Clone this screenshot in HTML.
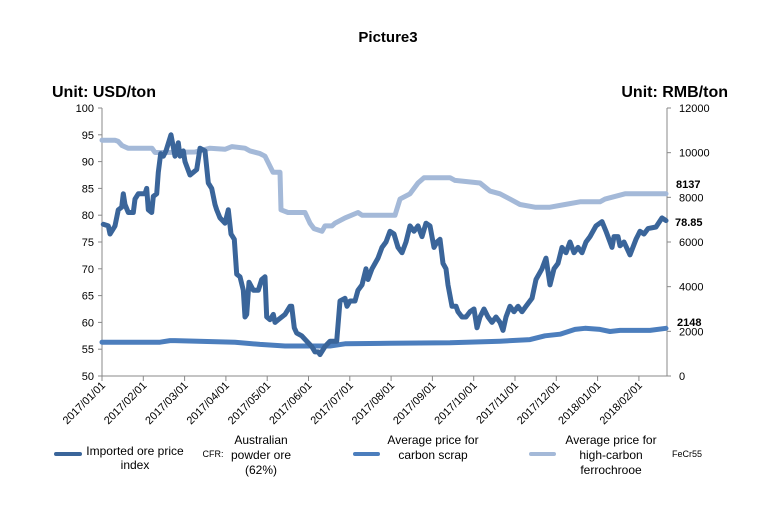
<!DOCTYPE html>
<html><head><meta charset="utf-8"><style>
body{margin:0;background:#fff;}
svg{display:block;font-family:"Liberation Sans",sans-serif;}
</style></head><body>
<svg id="s" width="776" height="506" xmlns="http://www.w3.org/2000/svg">
<rect width="776" height="506" fill="#fff"/>
<text x="388" y="42" font-size="15" font-weight="bold" text-anchor="middle">Picture3</text>
<text x="52" y="97" font-size="16" font-weight="bold">Unit: USD/ton</text>
<text x="728" y="97" font-size="16" font-weight="bold" text-anchor="end">Unit: RMB/ton</text>
<g id="axes" stroke="#888" stroke-width="1" fill="none"></g>
<g id="labels" font-size="11" fill="#000"></g>
<g id="series" fill="none" stroke-linejoin="round" stroke-linecap="round"></g>
<text x="676" y="188" font-size="11" font-weight="bold">8137</text>
<text x="675" y="226" font-size="11" font-weight="bold">78.85</text>
<text x="677" y="326" font-size="11" font-weight="bold">2148</text>
<g font-size="12" fill="#000" text-anchor="middle">
<line x1="56" y1="454" x2="80" y2="454" stroke="#3A659A" stroke-width="4" stroke-linecap="round"/>
<text x="135" y="455">Imported ore price</text><text x="135" y="469">index</text>
<text x="213" y="457" font-size="9">CFR:</text>
<text x="261" y="444">Australian</text><text x="261" y="459">powder ore</text><text x="261" y="474">(62%)</text>
<line x1="355" y1="454" x2="378" y2="454" stroke="#4C7EBD" stroke-width="4" stroke-linecap="round"/>
<text x="433" y="444">Average price for</text><text x="433" y="459">carbon scrap</text>
<line x1="531" y1="454" x2="554" y2="454" stroke="#A4B9D8" stroke-width="4" stroke-linecap="round"/>
<text x="611" y="444">Average price for</text><text x="611" y="459">high-carbon</text><text x="611" y="474">ferrochrooe</text>
<text x="687" y="457" font-size="9">FeCr55</text>
</g>
</svg>
<script>
const NS="http://www.w3.org/2000/svg";
function el(p,t,a,txt){const e=document.createElementNS(NS,t);for(const k in a)e.setAttribute(k,a[k]);if(txt!==undefined)e.textContent=txt;document.getElementById(p).appendChild(e);return e;}
const L=102,R=667,T=108,B=376;
const Y=v=>B-(v-50)*(B-T)/50;
el("axes","line",{x1:L,y1:T,x2:L,y2:B});
el("axes","line",{x1:R,y1:T,x2:R,y2:B});
el("axes","line",{x1:L,y1:B,x2:R,y2:B});
for(let v=50;v<=100;v+=5){const y=Y(v);el("axes","line",{x1:L-4,y1:y,x2:L,y2:y});el("labels","text",{x:L-8,y:y+4,"text-anchor":"end"},String(v));}
for(let r=0;r<=12000;r+=2000){const y=B-r/12000*(B-T);el("axes","line",{x1:R,y1:y,x2:R+4,y2:y});el("labels","text",{x:R+12,y:y+4},String(r));}
const dates=["2017/01/01","2017/02/01","2017/03/01","2017/04/01","2017/05/01","2017/06/01","2017/07/01","2017/08/01","2017/09/01","2017/10/01","2017/11/01","2017/12/01","2018/01/01","2018/02/01"];
dates.forEach((d,i)=>{const x=L+i*41.3;el("axes","line",{x1:x,y1:B,x2:x,y2:B+5});el("labels","text",{x:x+4,y:B+10,"text-anchor":"end",transform:`rotate(-45 ${x+4} ${B+10})`},d);});
const zd=[[190,78.3],[205,78],[210,76.5],[225,78],[235,81],[245,81.5],[250,84],[255,82],[265,80.5],[280,80.5],[285,83],[295,84],[315,84],[320,85],[325,81],[335,80.5],[340,83.5],[350,84],[355,88],[362,91.5],[370,91],[378,92],[393,95],[405,91],[415,93.5],[420,91],[430,92],[435,90],[450,87.5],[470,88.5],[480,92.5],[495,92],[505,86],[515,85],[525,82],[530,81],[540,79.5],[555,78.5],[565,81],[573,76.5],[583,75.5],[590,69],[600,68.5],[610,66],[615,61],[620,61.5],[627,67.5],[640,66],[655,66],[665,68],[675,68.5],[680,61],[690,60.5],[700,61.5],[705,60],[715,60.5],[735,61.5],[750,63],[755,63],[763,59],[770,58],[785,57.5],[800,56.5],[815,55.5],[825,54.5],[835,54.5],[840,54],[855,55.5],[870,56.5],[890,56.5]];
let dark=zd.map(p=>[p[0]/3+40,p[1]]);
dark=dark.concat([[340,64],[345,64.5],[347,63],[350,64],[355,64],[358,66],[362,67],[366,70],[368,68],[372,70],[378,72],[382,74],[386,75],[390,77],[394,76.5],[398,74],[402,73],[406,75],[410,78],[414,77],[418,78],[422,76],[426,78.5],[430,78],[434,74],[437,75],[440,75.5],[443,71],[446,70],[448,67],[452,63],[456,63],[458,62],[462,61],[466,61],[470,62],[474,62.5],[477,59],[480,61],[484,62.5],[488,61],[492,60],[496,61],[500,60],[503,58.5],[506,61],[510,63],[514,62],[518,63],[522,62],[526,63],[532,64.5],[536,68],[542,70],[546,72],[550,67],[554,70],[558,71],[562,74],[566,73],[570,75],[574,73],[578,74],[582,73],[586,75],[590,76],[596,78],[602,78.8],[606,77],[612,74],[614,76],[618,76],[620,74.3],[624,75],[630,72.6],[636,75.5],[640,77],[644,76.5],[648,77.5],[656,77.8],[662,79.5],[666,79]]);
const light=[[102,94],[115,94],[118,93.8],[122,93],[128,92.5],[152,92.5],[155,91.7],[162,91.7],[195,91.8],[210,92.5],[225,92.3],[232,92.8],[245,92.5],[250,92],[260,91.5],[265,91],[273,88],[280,88],[281,81],[288,80.5],[305,80.5],[310,78.5],[314,77.5],[322,77],[325,78],[332,78],[335,78.5],[345,79.5],[358,80.5],[362,80],[395,80],[400,83],[405,83.5],[410,84],[418,86],[424,87],[450,87],[455,86.5],[480,86],[490,84.5],[500,84],[510,83],[520,82],[535,81.5],[550,81.5],[565,82],[580,82.5],[600,82.5],[605,83],[625,84],[640,84],[666,84]];
const blue=[[102,56.3],[160,56.3],[170,56.6],[175,56.6],[235,56.3],[260,55.9],[285,55.6],[330,55.6],[345,56],[390,56.1],[450,56.2],[500,56.5],[530,56.8],[545,57.5],[560,57.8],[575,58.7],[585,58.9],[600,58.7],[610,58.3],[620,58.5],[650,58.5],[666,58.9]];
const pts=a=>a.map(p=>p[0].toFixed(1)+","+Y(p[1]).toFixed(1)).join(" ");
el("series","polyline",{points:pts(light),stroke:"#A4B9D8","stroke-width":5});
el("series","polyline",{points:pts(blue),stroke:"#4C7EBD","stroke-width":5});
el("series","polyline",{points:pts(dark),stroke:"#3A659A","stroke-width":5});
</script>
</body></html>
